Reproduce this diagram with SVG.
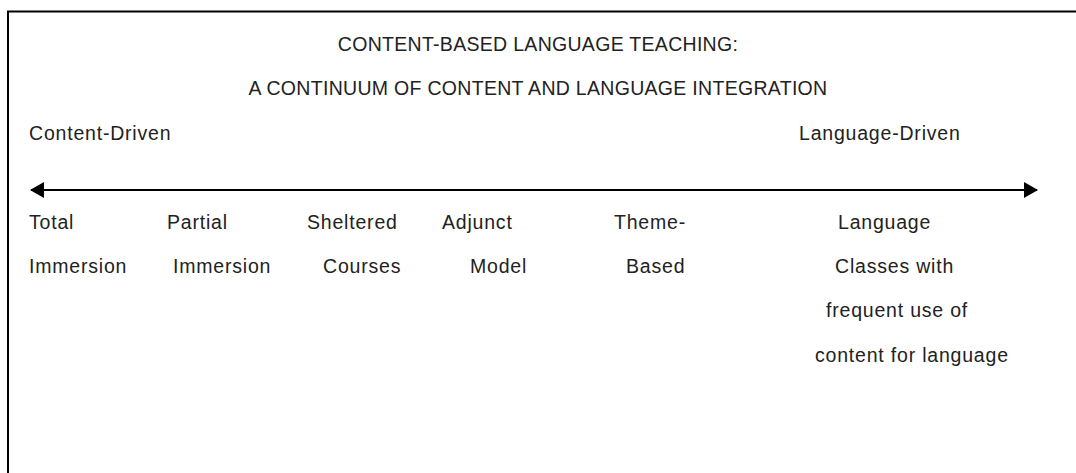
<svg xmlns="http://www.w3.org/2000/svg" width="1076" height="473" viewBox="0 0 1076 473">
<defs>
<style>
.t{font-family:"Liberation Sans",Arial,sans-serif;font-size:19.5px;fill:#222;letter-spacing:0.8px;}
.c{text-anchor:middle;letter-spacing:0.3px;}
.frame{fill:none;stroke:#000;stroke-width:2;}
.axis{stroke:#000;stroke-width:2.2;}
</style>
<marker id="ah" viewBox="0 0 14 16" refX="13" refY="8" markerWidth="14" markerHeight="16" markerUnits="userSpaceOnUse" orient="auto-start-reverse">
<path d="M0,0 L14,8 L0,16 Z" fill="#000"/>
</marker>
</defs>
<path class="frame" d="M8,473 L8,11.5 L1076,11.5"/>
<g id="title">
<text class="t c" x="538" y="51">CONTENT-BASED LANGUAGE TEACHING:</text>
<text class="t c" x="538" y="95">A CONTINUUM OF CONTENT AND LANGUAGE INTEGRATION</text>
</g>
<g id="content-driven"><text class="t" x="29" y="140">Content-Driven</text></g>
<g id="language-driven"><text class="t" x="799" y="140">Language-Driven</text></g>
<g id="connectors">
<line class="axis" x1="31" y1="190" x2="1037" y2="190" marker-start="url(#ah)" marker-end="url(#ah)"/>
</g>
<g id="total-immersion">
<text class="t" x="29" y="229">Total</text>
<text class="t" x="29" y="273">Immersion</text>
</g>
<g id="partial-immersion">
<text class="t" x="167" y="229">Partial</text>
<text class="t" x="173" y="273">Immersion</text>
</g>
<g id="sheltered-courses">
<text class="t" x="307" y="229">Sheltered</text>
<text class="t" x="323" y="273">Courses</text>
</g>
<g id="adjunct-model">
<text class="t" x="442" y="229">Adjunct</text>
<text class="t" x="470" y="273">Model</text>
</g>
<g id="theme-based">
<text class="t" x="614" y="229">Theme-</text>
<text class="t" x="626" y="273">Based</text>
</g>
<g id="language-classes">
<text class="t" x="838" y="229">Language</text>
<text class="t" x="835" y="273">Classes with</text>
<text class="t" x="826" y="317">frequent use of</text>
<text class="t" x="815" y="362">content for language</text>
</g>
</svg>
